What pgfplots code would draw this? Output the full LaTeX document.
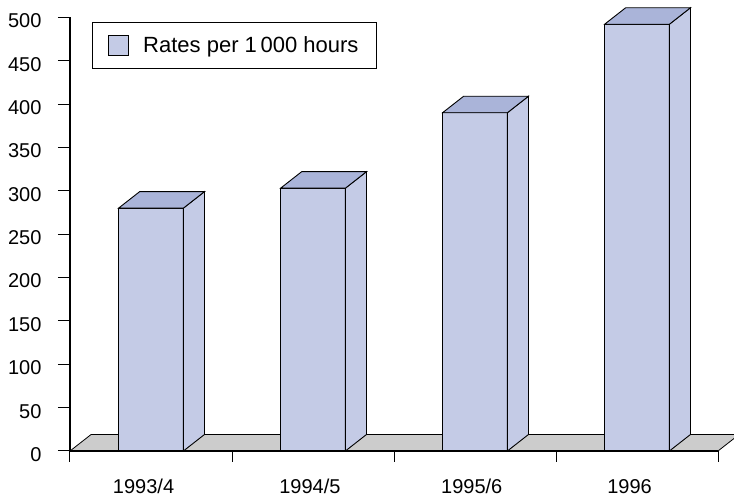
\documentclass[border=0pt]{standalone}
\usepackage{fontspec}
\setmainfont{Liberation Sans}
\usepackage{pgfplots}
\pgfplotsset{compat=1.18}
\usepackage{pgfplotstable}

\definecolor{barfront}{HTML}{C4CBE6}
\definecolor{bartop}{HTML}{AAB4D9}
\definecolor{barside}{HTML}{C4CBE6}
\definecolor{floorgray}{HTML}{CCCCCC}

% rates per 1000 hours
\pgfplotstableread{
x   v
0.5 280
1.5 303
2.5 390
3.5 492
}\rates

\begin{document}
\begin{tikzpicture}
\begin{axis}[
    scale only axis,
    width=648pt, height=433.7pt,
    xmin=0, xmax=4, ymin=0, ymax=500,
    clip=false, axis on top,
    axis x line*=bottom, axis y line*=left,
    axis line style={-, line width=1.5pt},
    tick align=outside,
    ytick={0,50,...,500},
    xtick={0.454,1.481,2.48,3.454},
    xticklabels={1993/4,1994/5,1995/6,1996},
    minor xtick={0,1,2,3,4},
    major tick length=12pt, minor tick length=11pt,
    major x tick style={draw=none},
    every tick/.style={black, line width=1pt},
    tick label style={font=\fontsize{20}{24}\selectfont},
    yticklabel style={xshift=-13pt, yshift=-3.5pt},
    xticklabel style={yshift=-12pt, text height=15pt, text depth=3pt},
    /pgf/number format/assume math mode=true,
    legend style={at={(0.034,0.99)}, anchor=north west, draw=black,
        line width=0.8pt, font=\fontsize{22}{26}\selectfont,
        inner xsep=16pt, inner ysep=12.5pt,
        /tikz/every odd column/.append style={column sep=12pt}},
    legend cell align=left,
]

% floor
\addplot[forget plot, fill=floorgray, draw=black, line width=0.8pt]
    coordinates {(0,0)(4,0)(4.13,19)(0.13,19)} -- cycle;

% front faces
\addplot[ybar, bar width=0.4, bar shift=0pt, fill=barfront, draw=black,
    line width=0.9pt,
    legend image code/.code={\draw[fill=barfront, draw=black, line width=0.8pt]
        (0pt,-10pt) rectangle (20pt,10pt);}]
    table[x=x, y=v] {\rates};
\addlegendentry{Rates per 1\,000 hours}

% side and top faces
\pgfplotsinvokeforeach{0,...,3}{
  \pgfplotstablegetelem{#1}{x}\of\rates \pgfmathsetmacro\cx{\pgfplotsretval}
  \pgfplotstablegetelem{#1}{v}\of\rates \pgfmathsetmacro\cv{\pgfplotsretval}
  \pgfmathsetmacro\xa{\cx-0.2}
  \pgfmathsetmacro\xb{\cx+0.2}
  \pgfmathsetmacro\xc{\cx+0.33}
  \pgfmathsetmacro\xd{\cx-0.07}
  \pgfmathsetmacro\vt{\cv+19}
  \edef\faces{%
    \noexpand\addplot[forget plot, fill=barside, draw=black, line width=0.9pt]
      coordinates {(\xb,0)(\xc,19)(\xc,\vt)(\xb,\cv)} -- cycle;
    \noexpand\addplot[forget plot, fill=bartop, draw=black, line width=0.9pt]
      coordinates {(\xa,\cv)(\xb,\cv)(\xc,\vt)(\xd,\vt)} -- cycle;
  }\faces
}

\end{axis}
\pgfresetboundingbox
\path[use as bounding box] (-70pt,-47pt) rectangle (664pt,451pt);
\end{tikzpicture}
\end{document}
